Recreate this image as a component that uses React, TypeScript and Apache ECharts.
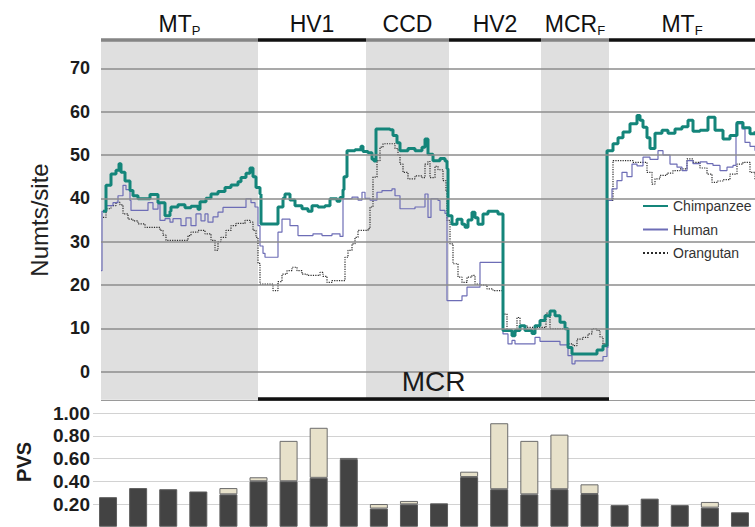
import React, { useEffect, useRef } from "react";
import * as echarts from "echarts";

// Window position along the control region (arbitrary units) and Numts/site values.
// Each pair holds from its position until the next pair.
const chimpanzee: [number, number][] = [
  [2, 37], [5, 43], [10, 45.6], [15, 46.5], [18, 48], [20, 46], [24, 44], [29, 41.8], [32, 40.6], [37, 39.9],
  [49, 40.9], [57, 39], [64, 36], [69, 37], [70, 38], [77, 38.5], [84, 37.8], [90, 38.2], [97, 37.5], [99, 39.2],
  [105, 40], [110, 41], [117, 41.6], [124, 42.5], [130, 43.1], [137, 43.8], [140, 44.8], [145, 45.8], [149, 47],
  [152, 45], [155, 42.5], [159, 41], [160, 34.1], [177, 38], [182, 40], [184, 41], [189, 39.6], [194, 38.3],
  [201, 37.6], [207, 37], [211, 38.3], [217, 38], [224, 38.3], [229, 39.9], [236, 39.3], [239, 40.2], [242, 42],
  [243, 45], [246, 51], [254, 51.2], [260, 52], [262, 50.8], [267, 50.5], [271, 49], [273, 48.6], [275, 56],
  [289, 55.8], [292, 54.5], [296, 52.8], [299, 51], [307, 51.5], [314, 51], [321, 51.8], [324, 53.7], [327, 50.2],
  [332, 48.7], [339, 49.2], [344, 48.6], [346, 46.8], [347, 36], [351, 34], [356, 35.2], [361, 34], [364, 33.3],
  [367, 35], [371, 36.8], [374, 35.5], [377, 34], [382, 36.4], [387, 37], [397, 36.4], [402, 9.5], [411, 8.3],
  [414, 9.5], [419, 10.6], [424, 9.5], [431, 8.8], [434, 10.6], [439, 11.8], [444, 12.9], [449, 14], [454, 12.9],
  [459, 11.4], [464, 9.9], [467, 5.6], [471, 4.1], [496, 5], [502, 6], [506, 51], [512, 52.6], [517, 54],
  [522, 55.3], [529, 57.2], [536, 59.1], [539, 58], [542, 56.4], [546, 54], [549, 51.5], [554, 55], [561, 55.7],
  [567, 55], [574, 56], [581, 56.5], [587, 58], [592, 55.5], [599, 55.7], [607, 58.7], [614, 55.7], [622, 53.7],
  [629, 54.5], [636, 57.5], [642, 56.3], [649, 54.9], [654, 55.5],
];

const human: [number, number][] = [
  [0, 23.3], [1, 37], [5, 38.3], [12, 39], [17, 40.6], [22, 43], [25, 42], [29, 39.5], [30, 37.2], [47, 39],
  [52, 37.5], [57, 38.7], [59, 34.9], [64, 35.3], [69, 34.5], [72, 35.3], [80, 33.7], [85, 35.5], [90, 33.7],
  [95, 36.4], [100, 34.8], [104, 36.4], [107, 34.5], [112, 35.7], [117, 36.8], [122, 37.9], [145, 39.9], [150, 39],
  [154, 38], [157, 33.7], [159, 29], [162, 27.3], [164, 26.4], [177, 32.2], [181, 35.2], [189, 33.7], [197, 31.4],
  [212, 31.8], [221, 31.4], [231, 31.8], [239, 31.2], [242, 39.9], [251, 40.3], [257, 39.6], [261, 41.4], [264, 40],
  [269, 39.6], [276, 41.4], [281, 41.8], [291, 42.2], [294, 40.6], [299, 37.6], [314, 38], [324, 41], [327, 35.6],
  [330, 39.9], [337, 39.5], [339, 37.2], [344, 36.5], [346, 16.4], [361, 17.5], [366, 19.5], [379, 25.2],
  [402, 8.7], [407, 6.4], [411, 7.2], [414, 6.4], [434, 7.9], [439, 7], [459, 6.2], [467, 3.7], [471, 1.8],
  [474, 2.5], [502, 3.5], [506, 5.6], [507, 39.5], [511, 42.2], [516, 44.1], [521, 46], [526, 45], [531, 47.9],
  [536, 47.5], [542, 49.5], [549, 49], [557, 51], [562, 50], [569, 47.9], [576, 47.2], [581, 46.4], [586, 48.7],
  [592, 48], [599, 48.4], [606, 48], [612, 47.6], [619, 46.4], [626, 47.2], [632, 47.6], [635, 57.2], [641, 56],
  [644, 52.9], [649, 52], [654, 51],
];

const orangutan: [number, number][] = [
  [2, 35.6], [5, 37.6], [10, 38.3], [15, 39.1], [19, 38.5], [22, 36.4], [27, 35.2], [32, 34.8], [37, 34.1],
  [44, 33.3], [59, 32.6], [62, 31.5], [65, 30.3], [87, 31.4], [90, 32.2], [97, 32.6], [104, 31.8], [110, 30.3],
  [114, 28], [117, 30], [120, 31], [125, 32.6], [130, 33.7], [135, 34.2], [144, 34.9], [149, 34.5], [152, 32.6],
  [155, 31], [157, 25], [159, 20.2], [172, 18.7], [177, 20.8], [181, 22.5], [186, 23.3], [191, 24.1], [196, 23.3],
  [201, 22.5], [206, 22.2], [219, 22.9], [222, 22], [226, 20.6], [231, 21], [244, 26.4], [247, 28], [251, 29.5],
  [254, 31], [257, 32.6], [267, 33], [269, 38], [272, 44.9], [276, 48.7], [279, 51.8], [282, 52.6], [294, 51.5],
  [297, 50], [299, 47.9], [302, 46], [307, 44.5], [314, 45.2], [321, 44.8], [324, 47.9], [327, 48.5], [329, 44.8],
  [334, 47.4], [337, 46.6], [342, 44.1], [345, 41.8], [346, 34.9], [349, 29.5], [352, 24.9], [357, 21.8],
  [361, 20.6], [366, 21.8], [371, 22.2], [374, 20.2], [379, 20], [386, 19.1], [392, 18.7], [402, 13.3], [406, 9.5],
  [411, 9.2], [416, 12.5], [419, 10.6], [426, 10.2], [432, 10.2], [445, 13.5], [449, 9.9], [467, 6.4], [472, 6],
  [476, 7.5], [482, 7.9], [487, 8.7], [491, 9.9], [496, 9.5], [499, 8], [502, 6.4], [506, 39.5], [512, 48.7],
  [532, 48.3], [546, 46], [551, 43.3], [554, 44.5], [559, 45.3], [566, 45.8], [572, 46.4], [579, 46.8],
  [586, 49.1], [592, 48.3], [599, 47], [606, 45.6], [611, 43.7], [616, 44], [622, 44.3], [629, 45.6], [636, 47.9],
  [642, 48.3], [649, 46], [654, 44.1],
];

// Regions of the mitochondrial control region
const regionNames = ["MT", "HV1", "CCD", "HV2", "MCR", "MT"];
const regionSubs = ["P", "", "", "", "F", "F"];
const regionStarts = [0, 157, 265, 348, 440, 508];
const regionEnds = [157, 265, 348, 440, 508, 656];
const regionShaded = [true, false, true, false, true, false];
const mcrSpan = [157, 508];

const numtsTicks = [0, 10, 20, 30, 40, 50, 60, 70];

// PVS per window: dark part and light upper part
const pvsWindows = Array.from({ length: 22 }, (_, i) => `W${i + 1}`);
const pvsDark = [0.26, 0.34, 0.33, 0.31, 0.285, 0.4, 0.4, 0.43, 0.595, 0.16, 0.197, 0.206, 0.437, 0.33, 0.285, 0.33, 0.288, 0.19, 0.247, 0.19, 0.168, 0.127];
const pvsLight = [0, 0, 0, 0, 0.055, 0.035, 0.355, 0.44, 0.01, 0.04, 0.03, 0, 0.047, 0.58, 0.47, 0.48, 0.085, 0, 0, 0, 0.05, 0];

const FONT = "'Liberation Sans', Arial, Helvetica, sans-serif";
const BAND_TOP = 76.4;
const BAND_BOTTOM = -6.5;
const HEADER_Y = 76.65;
const MCR_Y = -6.2;
const BASE_Y = -6.65;

export default function App() {
  const ref = useRef<HTMLDivElement>(null);

  useEffect(() => {
    if (!ref.current) return;
    const chart = echarts.init(ref.current, undefined, { renderer: "svg" });

    const bandData = regionNames.map((name, i) => [
      {
        name,
        xAxis: regionStarts[i],
        yAxis: BAND_TOP,
        itemStyle: { color: regionShaded[i] ? "#dfdfdf" : "rgba(0,0,0,0)" },
        label: {
          show: true,
          position: "top",
          distance: 4,
          formatter: regionSubs[i] ? `{m|${name}}{s|${regionSubs[i]}}` : `{m|${name}}`,
          rich: {
            m: { fontSize: 23, lineHeight: 26, color: "#111", fontFamily: FONT },
            s: { fontSize: 13, lineHeight: 13, color: "#111", fontFamily: FONT, verticalAlign: "bottom" },
          },
        },
      },
      { xAxis: regionEnds[i], yAxis: BAND_BOTTOM },
    ]);

    const headerLines = regionNames.map((_, i) => [
      { coord: [regionStarts[i], HEADER_Y], lineStyle: { color: regionShaded[i] ? "#858585" : "#111", width: 3.5, type: "solid" } },
      { coord: [Math.min(regionEnds[i], 654), HEADER_Y] },
    ]);

    const lineBase = {
      type: "line",
      xAxisIndex: 0,
      yAxisIndex: 0,
      step: "end",
      symbol: "none",
      showSymbol: false,
      z: 3,
    };

    const option: any = {
      animation: false,
      backgroundColor: "#ffffff",
      textStyle: { fontFamily: FONT },
      grid: [
        { left: 101, top: 25, width: 654, height: 390 },
        { left: 93, top: 413, width: 678, height: 113.75 },
      ],
      xAxis: [
        { type: "value", gridIndex: 0, min: 0, max: 654, show: false },
        { type: "category", gridIndex: 1, data: pvsWindows, show: false },
      ],
      yAxis: [
        {
          type: "value",
          gridIndex: 0,
          min: -10,
          max: 80,
          interval: 10,
          name: "Numts/site",
          nameLocation: "middle",
          nameGap: 50,
          nameTextStyle: { fontSize: 24, color: "#222", fontFamily: FONT },
          axisLine: { show: false },
          axisTick: { show: false },
          splitLine: { show: false },
          axisLabel: {
            margin: 11,
            fontSize: 18,
            fontWeight: "bold",
            color: "#1c1c1c",
            fontFamily: FONT,
            formatter: (v: number) => (numtsTicks.includes(v) ? String(v) : ""),
          },
        },
        {
          type: "value",
          gridIndex: 1,
          min: 0,
          max: 1,
          interval: 0.2,
          name: "PVS",
          nameLocation: "middle",
          nameGap: 59,
          nameTextStyle: { fontSize: 20, fontWeight: "bold", color: "#1c1c1c", fontFamily: FONT, padding: [0, 0, 0, 16] },
          axisLine: { show: false },
          axisTick: { show: false },
          splitLine: { show: true, lineStyle: { color: "#d2d2d2", width: 1 } },
          axisLabel: {
            margin: 3,
            fontSize: 19,
            fontWeight: "bold",
            color: "#1c1c1c",
            fontFamily: FONT,
            formatter: (v: number) => (v === 0 ? "" : v.toFixed(2)),
          },
        },
      ],
      legend: {
        data: ["Chimpanzee", "Human", "Orangutan"],
        orient: "vertical",
        left: 638,
        top: 194,
        backgroundColor: "#ffffff",
        padding: [5, 40, 5, 4],
        itemWidth: 25,
        itemHeight: 14,
        itemGap: 9.5,
        itemStyle: { opacity: 0 },
        textStyle: { fontSize: 14, color: "#333", fontFamily: FONT },
      },
      series: [
        {
          // shaded regions and their titles
          type: "line",
          name: "regions",
          xAxisIndex: 0,
          yAxisIndex: 0,
          data: [],
          z: 1,
          silent: true,
          markArea: { silent: true, data: bandData },
        },
        {
          // horizontal rules: grid lines, region header bars, MCR bracket
          type: "line",
          name: "rules",
          xAxisIndex: 0,
          yAxisIndex: 0,
          data: [],
          z: 2,
          silent: true,
          markLine: {
            silent: true,
            symbol: "none",
            label: { show: false },
            data: [
              ...numtsTicks.map((v) => ({ yAxis: v, lineStyle: { color: "#8c8c8c", width: 1.5, type: "solid" } })),
              ...headerLines,
              [
                { coord: [0, BASE_Y], lineStyle: { color: "#9a9a9a", width: 1, type: "solid" } },
                { coord: [654, BASE_Y] },
              ],
              [
                {
                  name: "MCR",
                  coord: [mcrSpan[0], MCR_Y],
                  lineStyle: { color: "#111", width: 3.5, type: "solid" },
                  label: {
                    show: true,
                    position: "insideMiddleTop",
                    formatter: "MCR",
                    fontSize: 28,
                    color: "#1a1a1a",
                    fontFamily: FONT,
                    distance: 3,
                  },
                },
                { coord: [mcrSpan[1], MCR_Y] },
              ],
            ],
          },
        },
        {
          ...lineBase,
          name: "Orangutan",
          data: orangutan,
          color: "#2a2a2a",
          lineStyle: { color: "#2a2a2a", width: 1.2, type: "dotted" },
        },
        {
          ...lineBase,
          name: "Human",
          data: human,
          color: "#6d6db6",
          lineStyle: { color: "#6d6db6", width: 1.2 },
        },
        {
          ...lineBase,
          name: "Chimpanzee",
          data: chimpanzee,
          color: "#14857a",
          lineStyle: { color: "#14857a", width: 3 },
        },
        {
          type: "bar",
          name: "PVS",
          xAxisIndex: 1,
          yAxisIndex: 1,
          stack: "pvs",
          barWidth: 18,
          data: pvsDark,
          itemStyle: { color: "#434343", borderColor: "#5e5e5e", borderWidth: 1 },
        },
        {
          type: "bar",
          name: "PVS extra",
          xAxisIndex: 1,
          yAxisIndex: 1,
          stack: "pvs",
          barWidth: 18,
          data: pvsLight.map((v) => (v > 0 ? v : null)),
          itemStyle: { color: "#e7e1ca", borderColor: "#6b6b6b", borderWidth: 1 },
        },
      ],
    };

    chart.setOption(option);
    return () => chart.dispose();
  }, []);

  return <div ref={ref} style={{ position: "fixed", left: 0, top: 0, width: 755, height: 527 }} />;
}
